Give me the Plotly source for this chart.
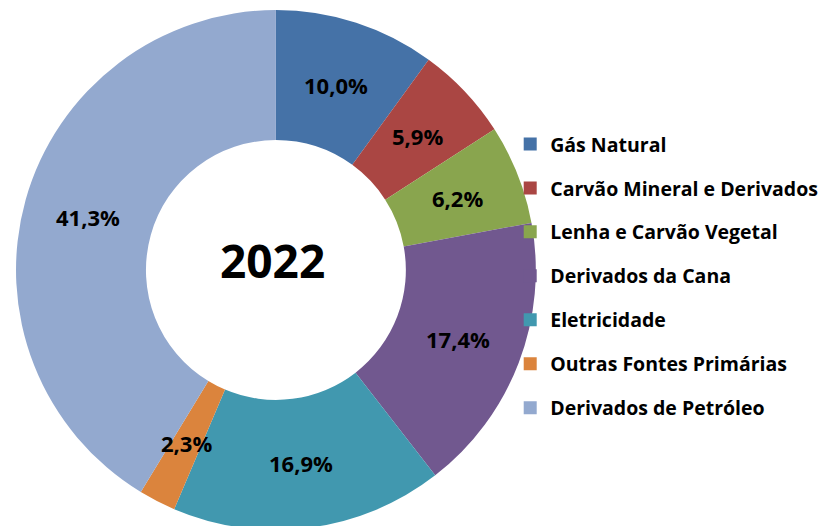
import math
import plotly.graph_objects as go

categories = ["Gás Natural", "Carvão Mineral e Derivados", "Lenha e Carvão Vegetal",
              "Derivados da Cana", "Eletricidade", "Outras Fontes Primárias",
              "Derivados de Petróleo"]
values = [10.0, 5.9, 6.2, 17.4, 16.9, 2.3, 41.3]
colors = ["#4572A7", "#AA4643", "#89A54E", "#71588F", "#4198AF", "#DB843D", "#93A9CF"]
center_label = "2022"

FONT = "Open Sans"
W, H = 826, 526
DOM_X = [0.0097, 0.639]
DOM_Y = [0.0076, 0.9962]
HOLE = 0.5

fig = go.Figure()
fig.add_trace(go.Pie(
    labels=categories, values=values, sort=False, direction="clockwise", rotation=0,
    hole=HOLE, marker=dict(colors=colors, line=dict(width=0)),
    textinfo="none",
    domain=dict(x=DOM_X, y=DOM_Y),
    showlegend=False,
))

# percentage labels placed at the middle of the ring (as in the original), derived from the data
total = sum(values)
cx = (DOM_X[0] + DOM_X[1]) / 2
cy = (DOM_Y[0] + DOM_Y[1]) / 2
R = min((DOM_X[1] - DOM_X[0]) * W, (DOM_Y[1] - DOM_Y[0]) * H) / 2
r_mid = R * (1 + HOLE) / 2
cum = 0.0
for v in values:
    ang = 2 * math.pi * (cum + v / 2) / total
    fig.add_annotation(
        text=f"{100 * v / total:.1f}".replace(".", ",") + "%",
        x=cx + r_mid * math.sin(ang) / W, y=cy + r_mid * math.cos(ang) / H,
        xref="paper", yref="paper", xanchor="center", yanchor="middle",
        showarrow=False, font=dict(family=FONT, size=22, color="black", weight="bold"))
    cum += v

for c, col in zip(categories, colors):
    fig.add_trace(go.Scatter(
        x=[None], y=[None], mode="markers", name=c, legendgroup=c,
        marker=dict(symbol="square", size=13, color=col),
        showlegend=True,
    ))

fig.add_annotation(text=center_label, x=0.320, y=0.520, xref="paper", yref="paper",
                   xanchor="center", yanchor="middle",
                   showarrow=False, font=dict(family=FONT, size=46, color="black", weight="bold"))

fig.update_layout(
    width=W, height=H,
    margin=dict(l=0, r=0, t=0, b=0),
    paper_bgcolor="white", plot_bgcolor="white",
    xaxis=dict(visible=False), yaxis=dict(visible=False),
    legend=dict(x=0.608, y=0.778, xanchor="left", yanchor="top",
                font=dict(family=FONT, size=19.5, color="black", weight="bold"),
                tracegroupgap=15.6, itemwidth=30, bgcolor="rgba(0,0,0,0)"),
)

fig.write_html("out.html")
